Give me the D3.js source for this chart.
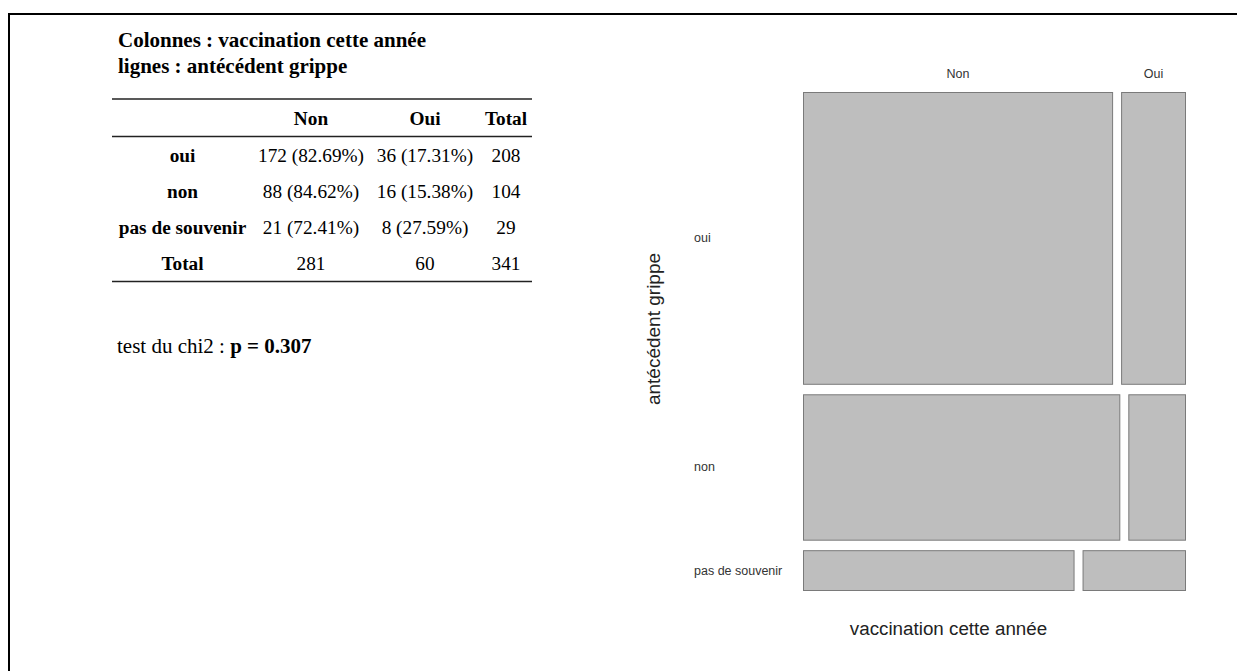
<!DOCTYPE html>
<html>
<head>
<meta charset="utf-8">
<script src="https://cdn.jsdelivr.net/npm/d3@7"></script>
<style>
  html, body { margin: 0; padding: 0; background: #fff; overflow: hidden; }
  svg { display: block; }
</style>
</head>
<body>
<svg id="chart" width="1237" height="671"></svg>
<script>
// Contingency table: rows = antécédent grippe, columns = vaccination cette année
const colCats = ["Non", "Oui"];
const rowCats = ["oui", "non", "pas de souvenir"];
const counts = [
  [172, 36],
  [88, 16],
  [21, 8]
];
const pValue = "0.307";
const titleLines = ["Colonnes : vaccination cette année", "lignes : antécédent grippe"];
const xTitle = "vaccination cette année";
const yTitle = "antécédent grippe";

const svg = d3.select("#chart");
const W = 1237, H = 671;

// outer frame (right and bottom edges run past the page)
svg.append("rect")
  .attr("x", 9).attr("y", 14)
  .attr("width", W + 20).attr("height", H + 20)
  .attr("fill", "none").attr("stroke", "#000").attr("stroke-width", 2);

// ---------- table ----------
const serif = "'Liberation Serif', 'Times New Roman', serif";
const rowTotals = counts.map(r => d3.sum(r));
const colTotals = colCats.map((_, j) => d3.sum(counts, r => r[j]));
const grand = d3.sum(rowTotals);

const tg = svg.append("g").attr("font-family", serif).attr("fill", "#000");

tg.selectAll("text.title").data(titleLines).join("text")
  .attr("class", "title")
  .attr("x", 118).attr("y", (d, i) => 47 + i * 26)
  .attr("font-size", 21).attr("font-weight", "bold")
  .text(d => d);

const colX = d3.scaleOrdinal().domain(["label", ...colCats, "Total"]).range([182.5, 311, 425, 506]);
const tableLeft = 112, tableRight = 532;

const rules = [99, 136.5, 281.5];
tg.selectAll("line.rule").data(rules).join("line")
  .attr("class", "rule")
  .attr("x1", tableLeft).attr("x2", tableRight)
  .attr("y1", d => d).attr("y2", d => d)
  .attr("stroke", "#222").attr("stroke-width", 1.7);

const fs = 19.3;
// header
tg.selectAll("text.head").data([...colCats, "Total"]).join("text")
  .attr("class", "head")
  .attr("x", d => colX(d)).attr("y", 125)
  .attr("text-anchor", "middle").attr("font-size", fs).attr("font-weight", "bold")
  .text(d => d);

const fmtPct = v => (v * 100).toFixed(2) + "%";
const bodyRows = rowCats.map((r, i) => ({
  label: r,
  cells: counts[i].map(c => `${c} (${fmtPct(c / rowTotals[i])})`),
  total: rowTotals[i]
}));
bodyRows.push({ label: "Total", cells: colTotals.map(String), total: grand });

const rowY = d3.scalePoint().domain(d3.range(bodyRows.length)).range([161.5, 270]);

const rg = tg.selectAll("g.row").data(bodyRows).join("g")
  .attr("class", "row")
  .attr("transform", (d, i) => `translate(0,${rowY(i)})`);
rg.append("text")
  .attr("x", colX("label")).attr("text-anchor", "middle")
  .attr("font-size", fs).attr("font-weight", "bold")
  .text(d => d.label);
rg.selectAll("text.cell").data(d => d.cells).join("text")
  .attr("class", "cell")
  .attr("x", (d, j) => colX(colCats[j])).attr("text-anchor", "middle")
  .attr("font-size", fs)
  .text(d => d);
rg.append("text")
  .attr("x", colX("Total")).attr("text-anchor", "middle")
  .attr("font-size", fs)
  .text(d => d.total);

const chi = tg.append("text").attr("x", 117).attr("y", 353).attr("font-size", 21);
chi.append("tspan").text("test du chi2 : ");
chi.append("tspan").attr("font-weight", "bold").text("p = " + pValue);

// ---------- mosaic plot ----------
const sans = "'Liberation Sans', Arial, sans-serif";
const mx0 = 803, mx1 = 1186, my0 = 92, my1 = 591;
const gapX = 8, gapY = 9.5;

const yScale = d3.scaleLinear().domain([0, grand])
  .range([0, (my1 - my0) - gapY * (rowCats.length - 1)]);
const xScale = d3.scaleLinear().domain([0, 1])
  .range([0, (mx1 - mx0) - gapX * (colCats.length - 1)]);

const rowCum = d3.cumsum([0, ...rowTotals]);
const tiles = [];
rowCats.forEach((r, i) => {
  const y = my0 + yScale(rowCum[i]) + i * gapY;
  const h = yScale(rowTotals[i]);
  let cum = 0;
  colCats.forEach((c, j) => {
    const p = counts[i][j] / rowTotals[i];
    tiles.push({ row: r, col: c, x: mx0 + xScale(cum) + j * gapX, y, w: xScale(p), h });
    cum += p;
  });
});

const mg = svg.append("g");
mg.selectAll("rect.tile").data(tiles).join("rect")
  .attr("class", "tile")
  .attr("x", d => d.x + 0.5).attr("y", d => d.y + 0.5)
  .attr("width", d => d.w - 1).attr("height", d => d.h - 1)
  .attr("fill", "#bebebe").attr("stroke", "#7a7a7a").attr("stroke-width", 1);

// column labels centred over the first row's tiles
mg.selectAll("text.colLab").data(tiles.filter(d => d.row === rowCats[0])).join("text")
  .attr("class", "colLab")
  .attr("x", d => d.x + d.w / 2).attr("y", 77.5)
  .attr("text-anchor", "middle")
  .attr("font-family", sans).attr("font-size", 12.5).attr("fill", "#333")
  .text(d => d.col);

// row labels
mg.selectAll("text.rowLab").data(tiles.filter(d => d.col === colCats[0])).join("text")
  .attr("class", "rowLab")
  .attr("x", 694).attr("y", d => d.y + d.h / 2 + 4)
  .attr("font-family", sans).attr("font-size", 12.5).attr("fill", "#333")
  .text(d => d.row);

mg.append("text")
  .attr("x", 948.5).attr("y", 635)
  .attr("text-anchor", "middle")
  .attr("font-family", sans).attr("font-size", 18.8).attr("fill", "#222")
  .text(xTitle);

mg.append("text")
  .attr("transform", "translate(660,329) rotate(-90)")
  .attr("text-anchor", "middle")
  .attr("font-family", sans).attr("font-size", 19).attr("fill", "#222")
  .text(yTitle);
</script>
</body>
</html>
